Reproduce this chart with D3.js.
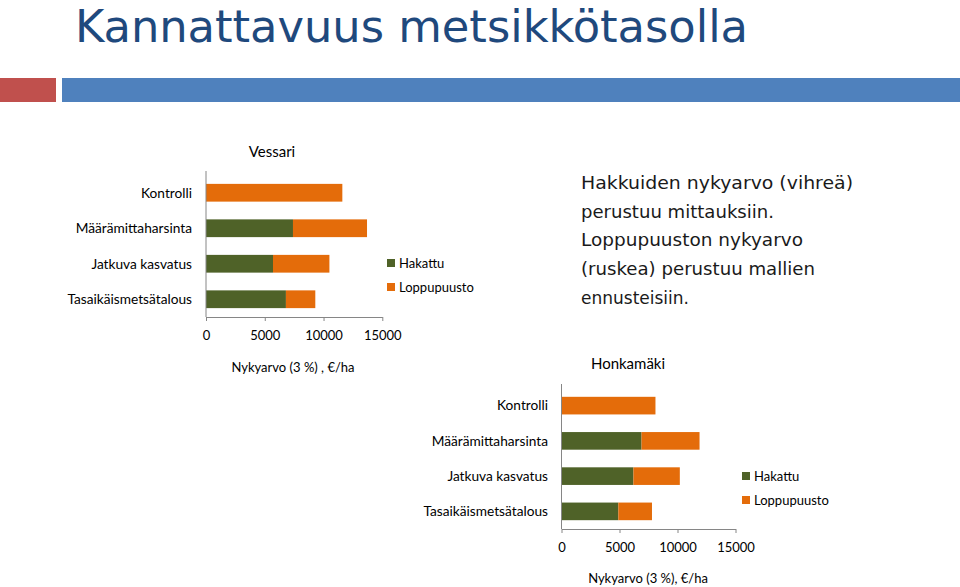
<!DOCTYPE html>
<html><head><meta charset="utf-8">
<script src="https://cdn.jsdelivr.net/npm/d3@7"></script>
<style>html,body{margin:0;padding:0;background:#fff;}svg{display:block;}</style>
</head><body>
<script>
const categories = ["Kontrolli","Määrämittaharsinta","Jatkuva kasvatus","Tasaikäismetsätalous"];
const seriesNames = ["Hakattu","Loppupuusto"];
const vessariHakattu = [0, 7400, 5700, 6800];
const vessariLoppupuusto = [11600, 6300, 4800, 2500];
const honkamakiHakattu = [0, 6900, 6200, 4900];
const honkamakiLoppupuusto = [8100, 5000, 4000, 2900];
const xTicks = [0, 5000, 10000, 15000];
const noteLines = ["Hakkuiden nykyarvo (vihreä)","perustuu mittauksiin.","Loppupuuston nykyarvo","(ruskea) perustuu mallien","ennusteisiin."];

const W = 960, H = 587;
const colors = {Hakattu:"#4f6228", Loppupuusto:"#e46c0a"};
const font = "Lato, 'Open Sans', sans-serif";
const svg = d3.select("body").append("svg").attr("width",W).attr("height",H);

// header
svg.append("text").attr("x",75).attr("y",42).attr("font-family","'DejaVu Sans Condensed', 'Liberation Sans Narrow', sans-serif")
  .attr("font-size",44).attr("fill","#1f497d").attr("textLength",673).attr("lengthAdjust","spacingAndGlyphs")
  .text("Kannattavuus metsikkötasolla");
svg.append("rect").attr("x",0).attr("y",78).attr("width",56).attr("height",24).attr("fill","#c0504d");
svg.append("rect").attr("x",62).attr("y",78).attr("width",W-62).attr("height",24).attr("fill","#4f81bd");

// note
const noteWidths = [272, 193, 222, 234, 108];
noteLines.forEach((t,i)=>{
  svg.append("text").attr("x",581).attr("y",189+i*28.7).attr("font-family","'DejaVu Sans', sans-serif")
    .attr("font-size",18).attr("fill","#1a1a1a").attr("textLength",noteWidths[i]).attr("lengthAdjust","spacingAndGlyphs").text(t);
});

function drawChart(cfg){
  const g = svg.append("g");
  const x = d3.scaleLinear().domain([0,15000]).range(cfg.xr);
  const y = d3.scaleBand().domain(categories).range(cfg.yr).paddingInner(0.5).paddingOuter(0.25);
  const rows = categories.map((c,i)=>({cat:c, Hakattu:cfg.hak[i], Loppupuusto:cfg.lop[i]}));
  const stack = d3.stack().keys(seriesNames)(rows);
  g.selectAll("g.s").data(stack).join("g").attr("fill",d=>colors[d.key])
    .selectAll("rect").data(d=>d).join("rect")
    .attr("x",d=>x(d[0])).attr("width",d=>x(d[1])-x(d[0]))
    .attr("y",d=>y(d.data.cat)).attr("height",y.bandwidth());
  // x axis
  const ax = g.append("g").attr("transform",`translate(0,${cfg.yr[1]})`)
    .call(d3.axisBottom(x).tickValues(xTicks).tickFormat(d3.format("d")).tickSizeInner(4).tickSizeOuter(0).tickPadding(10));
  ax.select(".domain").attr("stroke","#868686");
  ax.selectAll(".tick line").attr("stroke","#868686");
  ax.selectAll(".tick text").attr("font-family",font).attr("font-size",13).attr("fill","#000");
  // y axis line
  g.append("line").attr("x1",x(0)).attr("x2",x(0)).attr("y1",cfg.yr[0]-4).attr("y2",cfg.yr[1]).attr("stroke","#868686");
  // category labels
  g.selectAll("text.cat").data(categories).join("text").attr("class","cat")
    .attr("x",cfg.labelX).attr("y",d=>y(d)+y.bandwidth()/2).attr("dy","0.35em").attr("text-anchor","end")
    .attr("font-family",font).attr("font-size",13.7).attr("fill","#000").text(d=>d);
  // title
  g.append("text").attr("x",cfg.title[1]).attr("y",cfg.title[2]).attr("dy","0.35em").attr("text-anchor","middle")
    .attr("font-family",font).attr("font-size",15).attr("fill","#000").text(cfg.title[0]);
  g.append("text").attr("x",cfg.axisTitle[1]).attr("y",cfg.axisTitle[2]).attr("dy","0.35em").attr("text-anchor","middle")
    .attr("font-family",font).attr("font-size",13).attr("fill","#000").text(cfg.axisTitle[0]);
  // legend
  seriesNames.forEach((s,i)=>{
    g.append("rect").attr("x",cfg.leg[0]).attr("y",cfg.leg[1]+i*24-4).attr("width",8).attr("height",8).attr("fill",colors[s]);
    g.append("text").attr("x",cfg.leg[0]+12).attr("y",cfg.leg[1]+i*24).attr("dy","0.35em")
      .attr("font-family",font).attr("font-size",13).attr("fill","#000").text(s);
  });
}

drawChart({xr:[206,382.3], yr:[175,317], hak:vessariHakattu, lop:vessariLoppupuusto, labelX:192,
  title:["Vessari",272,152], axisTitle:["Nykyarvo (3 %) , €/ha",293,367], leg:[387,263]});
drawChart({xr:[561.5,735.5], yr:[388,529], hak:honkamakiHakattu, lop:honkamakiLoppupuusto, labelX:548,
  title:["Honkamäki",628,364], axisTitle:["Nykyarvo (3 %), €/ha",648,578], leg:[742,476]});
</script>
</body></html>
